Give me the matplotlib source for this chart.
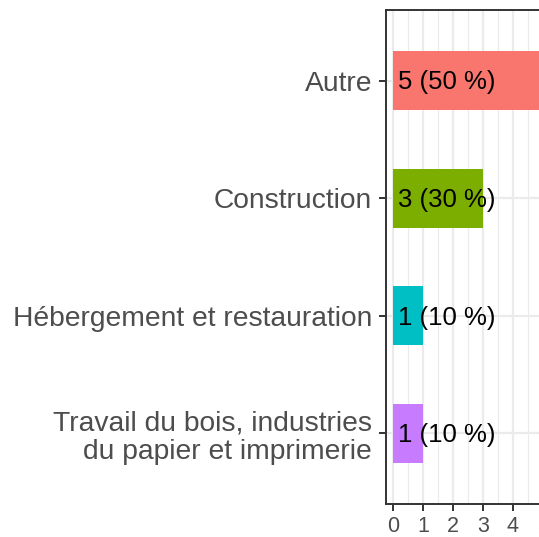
import matplotlib
matplotlib.use("Agg")
import matplotlib.pyplot as plt
from matplotlib.ticker import MultipleLocator

plt.rcParams['font.family'] = ['Liberation Sans', 'DejaVu Sans']

# data, bottom to top
categories = ["Travail du bois, industries\ndu papier et imprimerie",
              "Hébergement et restauration",
              "Construction",
              "Autre"]
counts = [1, 1, 3, 5]
labels = ["1 (10 %)", "1 (10 %)", "3 (30 %)", "5 (50 %)"]
colors = ["#C77CFF", "#00BFC4", "#7CAE00", "#F8766D"]

W, H = 539, 537
fig = plt.figure(figsize=(W / 100, H / 100), dpi=100)
ax = fig.add_axes([386 / W, 1 - 504 / H, (550.5 - 386) / W, (504 - 10) / H])

ypos = list(range(1, len(categories) + 1))
ax.barh(ypos, counts, height=0.5, color=colors, zorder=2)
for y, lab in zip(ypos, labels):
    ax.text(0.17, y - 0.015, lab, ha='left', va='center', fontsize=18.5,
            color='black', zorder=3)

ax.set_xlim(-0.23, 5.25)
ax.set_ylim(0.4, 4.6)
ax.set_yticks(ypos)
ax.set_yticklabels(categories, fontsize=20.3, color='#4D4D4D',
                   linespacing=1.15)
ax.xaxis.set_major_locator(MultipleLocator(1))
ax.xaxis.set_minor_locator(MultipleLocator(0.5))
ax.tick_params(axis='x', labelsize=15.5, colors='#4D4D4D')
ax.tick_params(which='major', length=5, width=1.4, color='#333333')
ax.tick_params(axis='y', pad=5)
ax.tick_params(which='minor', length=0)

ax.grid(which='major', color='#EBEBEB', linewidth=1.6, zorder=0)
ax.grid(which='minor', axis='x', color='#EBEBEB', linewidth=0.8, zorder=0)
ax.set_axisbelow(True)
for s in ax.spines.values():
    s.set_color('#333333')
    s.set_linewidth(1.4)

fig.savefig("out.png", dpi=100)
